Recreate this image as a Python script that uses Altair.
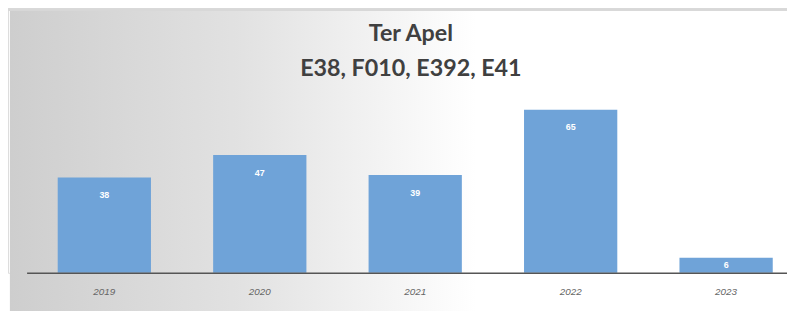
import altair as alt
import pandas as pd

years = ["2019", "2020", "2021", "2022", "2023"]
counts = [38, 47, 39, 65, 6]
title_lines = ["Ter Apel", "E38, F010, E392, E41"]

df = pd.DataFrame({"year": years, "count": counts})
W, H = 787, 266

x_enc = alt.X("year:N", sort=years,
              scale=alt.Scale(range=[18.8, 804], paddingInner=0.4, paddingOuter=0.2, round=False),
              axis=alt.Axis(title=None, domainColor="#555555", domainWidth=1.5, ticks=False,
                            labelColor="#666666", labelFontSize=10, labelFont="Liberation Sans",
                            labelFontStyle="italic", labelPadding=14, labelAngle=0, zindex=1))
yscale = alt.Scale(domain=[0, 105], nice=False)
y_enc = alt.Y("count:Q", scale=yscale, axis=None)

bg = alt.Chart(df).mark_rect(
    color=alt.Gradient(gradient="linear", x1=0, x2=1, y1=0, y2=0,
                       stops=[alt.GradientStop(color="#cecece", offset=0),
                              alt.GradientStop(color="#e2e2e2", offset=0.3),
                              alt.GradientStop(color="#ffffff", offset=0.6),
                              alt.GradientStop(color="#ffffff", offset=1)])
).encode(x=alt.value(2), x2=alt.value(W), y=alt.value(0), y2=alt.value(310))

topline = alt.Chart(df).mark_rule(color="#d8d8d8", strokeWidth=2).encode(
    x=alt.value(0), x2=alt.value(W), y=alt.value(0))

bars = alt.Chart(df).mark_bar(color="#6fa3d8").encode(x=x_enc, y=y_enc)

labels = alt.Chart(df).transform_calculate(
    ly="max(datum.count - 7, datum.count / 2)"
).mark_text(color="white", fontSize=9, fontWeight="bold",
            font="Liberation Sans", baseline="middle").encode(
    x=x_enc, y=alt.Y("ly:Q", scale=yscale, axis=None), text="count:Q")

tdf = pd.DataFrame({"t": title_lines, "yy": [25, 60]})
titles = alt.Chart(tdf).mark_text(font="Lato", fontSize=23.5, fontWeight="bold",
                                  color="#404040", align="center", baseline="middle").encode(
    x=alt.value(407), y=alt.Y("yy:Q", scale=None), text="t:N")

chart = alt.layer(bg, topline, bars, labels, titles).properties(
    width=W, height=H, autosize="none",
    padding={"left": 0, "top": 0, "right": 0, "bottom": 40},
).configure_view(stroke=None).configure(background="white")

chart.save("out.html", embed_options={"renderer": "svg", "actions": False})
